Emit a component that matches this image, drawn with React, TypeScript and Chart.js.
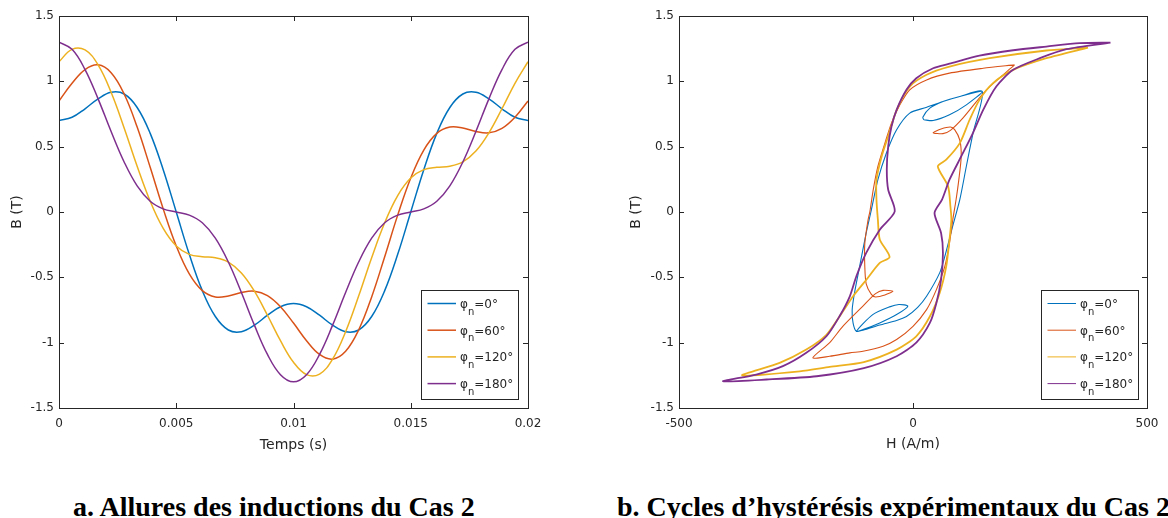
import React, { useEffect, useRef } from 'react';
import { Chart, registerables } from 'chart.js';

Chart.register(...registerables);

// ---------- data : left chart (B vs time) ----------
const TIME_S = [
  0, 0.000556, 0.001111, 0.001667, 0.002222, 0.002778, 0.003333, 0.003889, 0.004444, 0.005,
  0.005556, 0.006111, 0.006667, 0.007222, 0.007778, 0.008333, 0.008889, 0.009444, 0.01,
  0.010556, 0.011111, 0.011667, 0.012222, 0.012778, 0.013333, 0.013889, 0.014444, 0.015,
  0.015556, 0.016111, 0.016667, 0.017222, 0.017778, 0.018333, 0.018889, 0.019444, 0.02,
];
const B_PHI0 = [
  0.700, 0.725, 0.790, 0.866, 0.916, 0.903, 0.800, 0.602, 0.324, 0.000, -0.324, -0.602, -0.800,
  -0.903, -0.916, -0.866, -0.790, -0.725, -0.700, -0.725, -0.790, -0.866, -0.916, -0.903, -0.800,
  -0.602, -0.324, 0.000, 0.324, 0.602, 0.800, 0.903, 0.916, 0.866, 0.790, 0.725, 0.700,
];
const B_PHI60 = [
  0.850, 0.985, 1.090, 1.126, 1.066, 0.903, 0.650, 0.342, 0.024, -0.260, -0.474, -0.602, -0.650,
  -0.643, -0.616, -0.606, -0.640, -0.725, -0.850, -0.985, -1.090, -1.126, -1.066, -0.903, -0.650,
  -0.342, -0.024, 0.260, 0.474, 0.602, 0.650, 0.643, 0.616, 0.606, 0.640, 0.725, 0.850,
];
const B_PHI120 = [
  1.150, 1.245, 1.240, 1.126, 0.916, 0.643, 0.350, 0.082, -0.126, -0.260, -0.324, -0.342, -0.350,
  -0.383, -0.466, -0.606, -0.790, -0.985, -1.150, -1.245, -1.240, -1.126, -0.916, -0.643, -0.350,
  -0.082, 0.126, 0.260, 0.324, 0.342, 0.350, 0.383, 0.466, 0.606, 0.790, 0.985, 1.150,
];
const B_PHI180 = [
  1.300, 1.245, 1.090, 0.866, 0.616, 0.383, 0.200, 0.082, 0.024, 0.000, -0.024, -0.082, -0.200,
  -0.383, -0.616, -0.866, -1.090, -1.245, -1.300, -1.245, -1.090, -0.866, -0.616, -0.383, -0.200,
  -0.082, -0.024, 0.000, 0.024, 0.082, 0.200, 0.383, 0.616, 0.866, 1.090, 1.245, 1.300,
];

// ---------- data : right chart (hysteresis loops B vs H) ----------
const H_LOOP0 = [
  23, 43, 78, 114, 148, 100, 64, 28, -7, -35, -57, -75, -90, -100, -114, -125, -130, -128, -121,
  -107, -71, -35, -11, -30, -50, -86, -121, -107, -71, -35, -14, 10, 29, 57, 68, 84, 100, 114, 128,
  148, 100, 64, 36, 21, 23,
];
const B_LOOP0 = [
  0.706, 0.700, 0.744, 0.820, 0.922, 0.884, 0.846, 0.800, 0.757, 0.630, 0.450, 0.247, 0.000, -0.160,
  -0.416, -0.620, -0.750, -0.850, -0.913, -0.900, -0.849, -0.785, -0.720, -0.708, -0.726, -0.785,
  -0.913, -0.905, -0.865, -0.830, -0.800, -0.730, -0.645, -0.466, -0.340, -0.120, 0.094, 0.350,
  0.600, 0.922, 0.884, 0.846, 0.795, 0.726, 0.706,
];
const H_LOOP60 = [
  217, 150, 78, 29, -7, -28, -46, -60, -75, -85, -92, -96, -103, -103, -100, -89, -80, -60, -43, -64,
  -80, -107, -150, -178, -214, -178, -135, -107, -64, -35, 0, 29, 50, 68, 78, 85, 92, 98, 103, 100,
  89, 80, 60, 43, 64, 80, 107, 157, 217,
];
const B_LOOP60 = [
  1.126, 1.100, 1.063, 1.011, 0.935, 0.820, 0.680, 0.527, 0.349, 0.170, 0.005, -0.060, -0.240,
  -0.416, -0.550, -0.630, -0.650, -0.635, -0.607, -0.600, -0.625, -0.720, -0.875, -1.000, -1.116,
  -1.104, -1.078, -1.066, -1.027, -0.976, -0.875, -0.747, -0.594, -0.416, -0.237, -0.059, 0.094,
  0.250, 0.425, 0.550, 0.630, 0.650, 0.635, 0.607, 0.600, 0.625, 0.720, 0.935, 1.126,
];
const H_LOOP120 = [
  374, 285, 164, 78, 29, -7, -35, -53, -67, -78, -78, -75, -71, -50, -71, -100, -128, -157, -185,
  -228, -285, -365, -242, -178, -105, -35, 7, 36, 57, 71, 78, 82, 80, 75, 53, 71, 100, 121, 142,
  171, 214, 285, 374,
];
const B_LOOP120 = [
  1.258, 1.236, 1.177, 1.113, 1.050, 0.960, 0.780, 0.580, 0.425, 0.250, 0.090, -0.060, -0.210,
  -0.344, -0.390, -0.520, -0.645, -0.800, -0.940, -1.053, -1.155, -1.250, -1.219, -1.185, -1.148,
  -1.053, -0.951, -0.800, -0.620, -0.416, -0.210, -0.060, 0.040, 0.196, 0.349, 0.400, 0.527, 0.706,
  0.858, 0.986, 1.088, 1.177, 1.258,
];
const H_LOOP180 = [
  422, 356, 285, 214, 142, 78, 43, 7, -14, -35, -46, -53, -56, -53, -39, -71, -100, -121, -135,
  -157, -185, -228, -278, -335, -406, -313, -206, -105, -35, 7, 36, 50, 60, 64, 60, 46, 62, 78, 103,
  128, 150, 178, 214, 271, 328, 422,
];
const B_LOOP180 = [
  1.296, 1.292, 1.266, 1.238, 1.197, 1.135, 1.100, 1.024, 0.935, 0.782, 0.654, 0.502, 0.323, 0.170,
  0.005, -0.135, -0.313, -0.492, -0.645, -0.798, -0.951, -1.078, -1.180, -1.244, -1.295, -1.282,
  -1.257, -1.195, -1.104, -1.000, -0.849, -0.696, -0.518, -0.313, -0.161, -0.008, 0.094, 0.247,
  0.425, 0.604, 0.782, 0.960, 1.088, 1.177, 1.246, 1.296,
];

// ---------- labels / ticks ----------
const PHASE_LABELS = ['0°', '60°', '120°', '180°'];
const COLORS = ['#0072BD', '#D95319', '#EDB120', '#7E2F8E'];
const B_TICKS = [-1.5, -1, -0.5, 0, 0.5, 1, 1.5];
const T_TICKS = [0, 0.005, 0.01, 0.015, 0.02];
const H_TICKS = [-500, 0, 500];
const CAPTION_A = 'a. Allures des inductions du Cas 2';
const CAPTION_B = 'b. Cycles d\u2019hystérésis expérimentaux du Cas 2';

const TEXT = '#262626';
const FONT = '"DejaVu Sans", sans-serif';
const fmt = (v: number) => String(parseFloat(Number(v).toFixed(6)));

type FrameCfg = {
  xTitle: string;
  yTitle: string;
  yTitleX: number;
  xTitleY: number;
  legend: { x: number; y: number; w: number; h: number; lineW: number };
};

function framePlugin(cfg: FrameCfg) {
  return {
    id: 'matlabFrame',
    afterDraw(chart: any) {
      const { ctx, chartArea: a, scales } = chart;
      const xs = scales.x;
      const ys = scales.y;
      ctx.save();
      ctx.strokeStyle = TEXT;
      ctx.lineWidth = 1;
      ctx.beginPath();
      xs.ticks.forEach((t: any) => {
        const px = Math.round(xs.getPixelForValue(t.value)) + 0.5;
        ctx.moveTo(px, a.bottom);
        ctx.lineTo(px, a.bottom - 5);
        ctx.moveTo(px, a.top);
        ctx.lineTo(px, a.top + 5);
      });
      ys.ticks.forEach((t: any) => {
        const py = Math.round(ys.getPixelForValue(t.value)) + 0.5;
        ctx.moveTo(a.left, py);
        ctx.lineTo(a.left + 5, py);
        ctx.moveTo(a.right, py);
        ctx.lineTo(a.right - 5, py);
      });
      ctx.stroke();
      ctx.strokeRect(
        Math.round(a.left) + 0.5,
        Math.round(a.top) + 0.5,
        Math.round(a.right - a.left),
        Math.round(a.bottom - a.top)
      );
      ctx.fillStyle = TEXT;
      ctx.font = `14px ${FONT}`;
      ctx.textAlign = 'center';
      ctx.textBaseline = 'middle';
      ctx.fillText(cfg.xTitle, (a.left + a.right) / 2, cfg.xTitleY);
      ctx.save();
      ctx.translate(cfg.yTitleX, (a.top + a.bottom) / 2);
      ctx.rotate(-Math.PI / 2);
      ctx.fillText(cfg.yTitle, 0, 0);
      ctx.restore();

      // legend
      const L = cfg.legend;
      ctx.fillStyle = '#ffffff';
      ctx.fillRect(L.x, L.y, L.w, L.h);
      ctx.strokeStyle = TEXT;
      ctx.lineWidth = 1;
      ctx.strokeRect(L.x + 0.5, L.y + 0.5, L.w, L.h);
      chart.data.datasets.forEach((ds: any, i: number) => {
        const cy = L.y + 13.5 + i * 26.7;
        ctx.strokeStyle = ds.borderColor;
        ctx.lineWidth = L.lineW;
        ctx.beginPath();
        ctx.moveTo(L.x + 6.5, cy);
        ctx.lineTo(L.x + 35, cy);
        ctx.stroke();
        let tx = L.x + 39;
        ctx.fillStyle = TEXT;
        ctx.textAlign = 'left';
        ctx.textBaseline = 'alphabetic';
        ctx.font = `12px ${FONT}`;
        ctx.fillText('φ', tx, cy + 4.5);
        tx += ctx.measureText('φ').width;
        ctx.font = `10px ${FONT}`;
        ctx.fillText('n', tx, cy + 11);
        tx += ctx.measureText('n').width;
        ctx.font = `12px ${FONT}`;
        ctx.fillText('=' + PHASE_LABELS[i], tx, cy + 4.5);
      });
      ctx.restore();
    },
  };
}

function axis(ticks: number[], min: number, max: number, isX: boolean, size: number) {
  return {
    type: 'linear',
    min,
    max,
    afterBuildTicks: (s: any) => {
      s.ticks = ticks.map((v) => ({ value: v }));
    },
    afterFit: (s: any) => {
      if (isX) s.height = size;
      else s.width = size;
    },
    grid: { display: false, drawTicks: false },
    border: { display: false },
    ticks: {
      padding: isX ? 9 : 5,
      color: TEXT,
      font: { family: FONT, size: 12 },
      maxRotation: 0,
      autoSkip: false,
      callback: (v: any) => fmt(v),
    },
  };
}

export default function App() {
  const leftRef = useRef<HTMLCanvasElement>(null);
  const rightRef = useRef<HTMLCanvasElement>(null);

  useEffect(() => {
    const timeSeries = [B_PHI0, B_PHI60, B_PHI120, B_PHI180];
    const loops = [
      [H_LOOP0, B_LOOP0],
      [H_LOOP60, B_LOOP60],
      [H_LOOP120, B_LOOP120],
      [H_LOOP180, B_LOOP180],
    ];

    const left = new Chart(leftRef.current as HTMLCanvasElement, {
      type: 'line',
      data: {
        datasets: timeSeries.map((s, i) => ({
          label: 'φn=' + PHASE_LABELS[i],
          data: TIME_S.map((t, j) => ({ x: t, y: s[j] })),
          borderColor: COLORS[i],
          borderWidth: 1.5,
          pointRadius: 0,
          tension: 0.4,
          fill: false,
          order: 3 - i,
        })),
      },
      options: {
        responsive: false,
        animation: false,
        events: [],
        layout: { padding: { top: 16, right: 56, left: 0, bottom: 0 } },
        plugins: { legend: { display: false }, tooltip: { enabled: false } },
        scales: {
          x: axis(T_TICKS, 0, 0.02, true, 62),
          y: axis(B_TICKS, -1.5, 1.5, false, 59),
        },
      } as any,
      plugins: [
        framePlugin({
          xTitle: 'Temps (s)',
          yTitle: 'B (T)',
          yTitleX: 17,
          xTitleY: 445,
          legend: { x: 421, y: 290, w: 97, h: 109, lineW: 1.5 },
        }),
      ],
    } as any);

    const right = new Chart(rightRef.current as HTMLCanvasElement, {
      type: 'line',
      data: {
        datasets: loops.map((lp, i) => ({
          label: 'φn=' + PHASE_LABELS[i],
          data: lp[0].map((h, j) => ({ x: h, y: lp[1][j] })),
          borderColor: COLORS[i],
          borderWidth: i < 2 ? 1.1 : 1.8,
          pointRadius: 0,
          tension: 0.25,
          fill: false,
          order: 3 - i,
        })),
      },
      options: {
        responsive: false,
        animation: false,
        events: [],
        layout: { padding: { top: 16, right: 21, left: 0, bottom: 0 } },
        plugins: { legend: { display: false }, tooltip: { enabled: false } },
        scales: {
          x: axis(H_TICKS, -500, 500, true, 62),
          y: axis(B_TICKS, -1.5, 1.5, false, 95),
        },
      } as any,
      plugins: [
        framePlugin({
          xTitle: 'H (A/m)',
          yTitle: 'B (T)',
          yTitleX: 52,
          xTitleY: 444,
          legend: { x: 457, y: 290, w: 97, h: 109, lineW: 1 },
        }),
      ],
    } as any);

    return () => {
      left.destroy();
      right.destroy();
    };
  }, []);

  const captionStyle: React.CSSProperties = {
    position: 'absolute',
    top: 491,
    fontFamily: '"Liberation Serif", serif',
    fontWeight: 'bold',
    fontSize: 28,
    lineHeight: '32px',
    whiteSpace: 'nowrap',
    color: '#000',
  };

  return (
    <div
      style={{
        position: 'absolute',
        left: 0,
        top: 0,
        width: 1168,
        height: 518,
        overflow: 'hidden',
        background: '#fff',
      }}
    >
      <canvas
        ref={leftRef}
        width={584}
        height={470}
        style={{ position: 'absolute', left: 0, top: 0, width: 584, height: 470 }}
      />
      <canvas
        ref={rightRef}
        width={584}
        height={470}
        style={{ position: 'absolute', left: 584, top: 0, width: 584, height: 470 }}
      />
      <div style={{ ...captionStyle, left: 73 }}>{CAPTION_A}</div>
      <div style={{ ...captionStyle, left: 617 }}>{CAPTION_B}</div>
    </div>
  );
}
